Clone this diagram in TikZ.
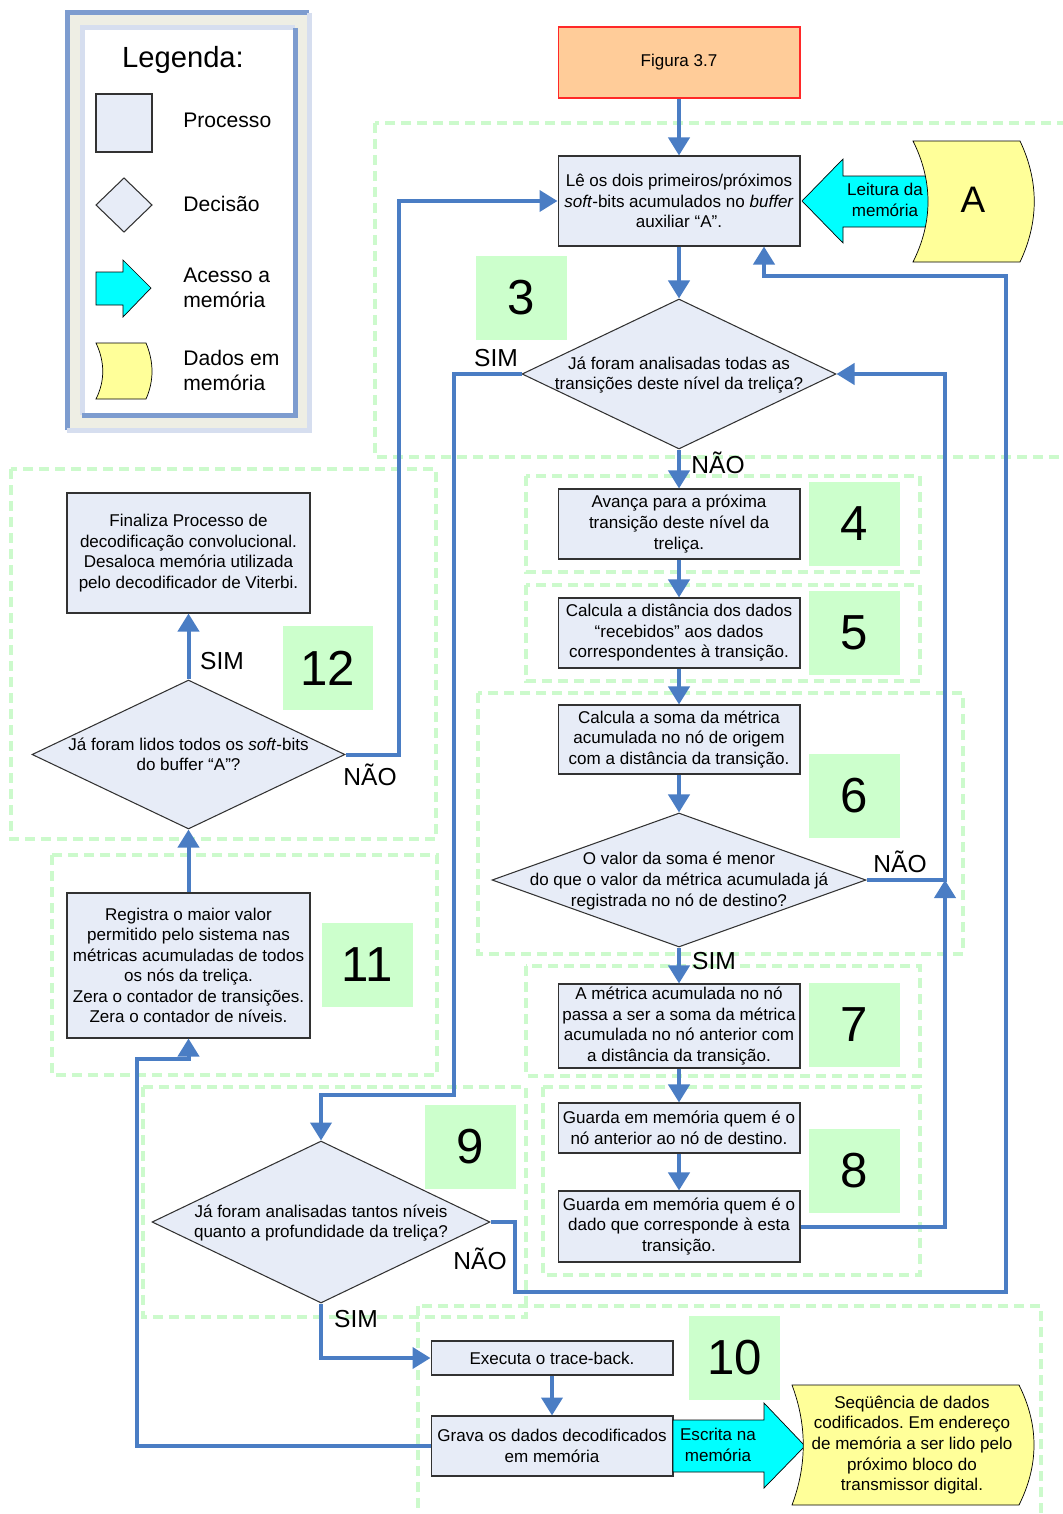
\documentclass[tikz,border=0pt]{standalone}
\usepackage{fontspec}
\setmainfont{Liberation Sans}
\usepackage{xcolor}
\usetikzlibrary{shapes.geometric,arrows.meta}

\definecolor{flowblue}{RGB}{74,125,196}
\definecolor{boxfill}{RGB}{231,236,247}
\definecolor{boxline}{RGB}{50,50,50}
\definecolor{numgreen}{RGB}{204,255,204}
\definecolor{zonegreen}{RGB}{204,250,204}
\definecolor{figfill}{RGB}{255,204,153}
\definecolor{figred}{RGB}{255,40,40}
\definecolor{memcyan}{RGB}{0,255,255}
\definecolor{memyellow}{RGB}{255,255,153}
\definecolor{legblue}{RGB}{125,156,207}
\definecolor{leglight}{RGB}{214,222,239}
\definecolor{legbeige}{RGB}{238,238,228}

\newcommand\boxfont{\fontsize{9.7}{11.7}\selectfont}
\newcommand\legfont{\fontsize{12}{14.2}\selectfont}
\frenchspacing

\begin{document}
\begin{tikzpicture}[x=0.02cm, y=-0.02cm,
    box/.style={draw=boxline, fill=boxfill, line width=0.6pt, minimum width=4.84cm,
      align=center, inner sep=1pt, font=\boxfont},
    decision/.style={diamond, draw=boxline, fill=boxfill, line width=0.6pt, inner sep=0pt},
    qtext/.style={align=center, font=\boxfont},
    legtext/.style={font=\legfont, anchor=west, align=left, inner sep=0pt},
    stepnum/.style={fill=numgreen, minimum width=1.82cm, minimum height=1.68cm,
      font=\fontsize{28}{30}\selectfont},
    answer/.style={font=\fontsize{14}{16}\selectfont},
    flow/.style={draw=flowblue, line width=0.08cm, -{Triangle[length=0.36cm,width=0.42cm]}},
    zone/.style={draw=zonegreen, line width=0.08cm, dash pattern=on 0.2cm off 0.12cm},
    memarrow/.style={fill=memcyan, draw=black, line width=0.4pt},
    memdata/.style={fill=memyellow, draw=black, line width=0.4pt}]
  \useasboundingbox (0,0) rectangle (1062,1514);

  % ── Zones pointillées (étapes) ──────────────────────────────────────────
  \draw[zone] (375,123) rectangle (1075,457);
  \draw[zone] (526,476) rectangle (920,572);
  \draw[zone] (526,585) rectangle (920,681);
  \draw[zone] (478,693) rectangle (963,954);
  \draw[zone] (526,966) rectangle (920,1076);
  \draw[zone] (543,1087) rectangle (920,1275);
  \draw[zone] (143,1087) rectangle (526,1317);
  \draw[zone] (418,1306) rectangle (1041,1530);
  \draw[zone] (52,855) rectangle (437,1075);
  \draw[zone] (11,469) rectangle (436,839);

  % ── Légende ─────────────────────────────────────────────────────────────
  \fill[legbeige] (67,13) rectangle (309,430);
  \draw[legblue, line width=0.1cm] (67,430) -- (67,13) -- (309,13);
  \draw[leglight, line width=0.1cm] (309,13) -- (309,430) -- (67,430);
  \fill[white] (82,28) rectangle (295,415);
  \draw[leglight, line width=0.1cm] (82,415) -- (82,28) -- (295,28);
  \draw[legblue, line width=0.1cm] (295,28) -- (295,415) -- (82,415);
  \node[font=\fontsize{16.6}{18}\selectfont] (legtitle) at (183,60) {Legenda:};
  \filldraw[draw=boxline, fill=boxfill, line width=0.6pt] (96,94) rectangle (152,152);
  \filldraw[draw=boxline, fill=boxfill, line width=0.6pt]
    (124,178) -- (152,205) -- (124,232) -- (96,205) -- cycle;
  \filldraw[memarrow] (96,272) -- (123,272) -- (123,260) -- (151,288)
    -- (123,317) -- (123,305) -- (96,305) -- cycle;
  \filldraw[memdata] (96,343) -- (146,343) .. controls (154,362) and (154,381) .. (146,399)
    -- (96,399) .. controls (105,381) and (105,362) .. (96,343) -- cycle;
  \node[legtext] (legproc) at (183,120) {Processo};
  \node[legtext] (legdec) at (183,204) {Decisão};
  \node[legtext] (legacc) at (183,288) {Acesso a\\memória};
  \node[legtext] (legdat) at (183,370) {Dados em\\memória};

  % ── Blocs du processus ─────────────────────────────────────────────────
  \node[box, fill=figfill, draw=figred, minimum height=1.42cm] (fig) at (679,62.5) {Figura 3.7};
  \node[box, minimum height=1.8cm] (b1) at (679,201)
    {Lê os dois primeiros/próximos\\\textit{soft}-bits acumulados no \textit{buffer}\\auxiliar “A”.};
  \node[decision, minimum width=6.28cm, minimum height=3cm] (d3) at (679,374) {};
  \node[qtext] (d3t) at (679,375) {Já foram analisadas todas as\\transições deste nível da treliça?};
  \node[box, minimum height=1.4cm] (b4) at (679,524)
    {Avança para a próxima\\transição deste nível da\\treliça.};
  \node[box, minimum height=1.4cm] (b5) at (679,633)
    {Calcula a distância dos dados\\“recebidos” aos dados\\correspondentes à transição.};
  \node[box, minimum height=1.38cm] (b6) at (679,739.5)
    {Calcula a soma da métrica\\acumulada no nó de origem\\com a distância da transição.};
  \node[decision, minimum width=7.48cm, minimum height=2.68cm] (d6) at (679,880) {};
  \node[qtext] (d6t) at (679,881)
    {O valor da soma é menor\\do que o valor da métrica acumulada já\\registrada no nó de destino?};
  \node[box, minimum height=1.68cm] (b7) at (679,1026)
    {A métrica acumulada no nó\\passa a ser a soma da métrica\\acumulada no nó anterior com\\a distância da transição.};
  \node[box, minimum height=1cm] (b8a) at (679,1128)
    {Guarda em memória quem é o\\nó anterior ao nó de destino.};
  \node[box, minimum height=1.42cm] (b8b) at (679,1226.5)
    {Guarda em memória quem é o\\dado que corresponde à esta\\transição.};
  \node[decision, minimum width=6.76cm, minimum height=3.24cm] (d9) at (321,1222) {};
  \node[qtext] (d9t) at (321,1223)
    {Já foram analisadas tantos níveis\\quanto a profundidade da treliça?};
  \node[box, minimum height=0.68cm] (b10a) at (552,1358) {Executa o trace-back.};
  \node[box, minimum height=1.2cm] (b10b) at (552,1446) {Grava os dados decodificados\\em memória};
  \node[box, minimum width=4.86cm, minimum height=2.9cm] (b11) at (188.5,965.5)
    {Registra o maior valor\\permitido pelo sistema nas\\métricas acumuladas de todos\\os nós da treliça.\\Zera o contador de transições.\\Zera o contador de níveis.};
  \node[decision, minimum width=6.26cm, minimum height=2.98cm] (d12) at (188.5,754.5) {};
  \node[qtext] (d12t) at (188.5,754.5) {Já foram lidos todos os \textit{soft}-bits\\do buffer “A”?};
  \node[box, minimum width=4.86cm, minimum height=2.4cm] (b12) at (188.5,553)
    {Finaliza Processo de\\decodificação convolucional.\\Desaloca memória utilizada\\pelo decodificador de Viterbi.};

  % ── Numéros des étapes ─────────────────────────────────────────────────
  \node[stepnum] (n3) at (521.5,298) {3};
  \node[stepnum] (n4) at (854.5,524) {4};
  \node[stepnum] (n5) at (854.5,633) {5};
  \node[stepnum] (n6) at (854.5,796) {6};
  \node[stepnum] (n7) at (854.5,1025) {7};
  \node[stepnum] (n8) at (854.5,1171) {8};
  \node[stepnum] (n9) at (470.5,1147) {9};
  \node[stepnum] (n10) at (734.5,1358) {10};
  \node[stepnum] (n11) at (367.5,965) {11};
  \node[stepnum] (n12) at (328,668) {12};

  % ── Accès mémoire ──────────────────────────────────────────────────────
  \filldraw[memarrow] (802,201) -- (843,159) -- (843,176) -- (935,176)
    -- (935,227) -- (843,227) -- (843,243) -- cycle;
  \node[qtext] (rd) at (885,200) {Leitura da\\memória};
  \filldraw[memdata] (913,141) -- (1020,141) .. controls (1039,181) and (1039,222) .. (1020,262)
    -- (913,262) .. controls (933,222) and (933,181) .. (913,141) -- cycle;
  \node[font=\fontsize{21}{23}\selectfont] (memA) at (973,200) {A};
  \filldraw[memarrow] (673,1420) -- (764,1420) -- (764,1403) -- (805,1446)
    -- (764,1488) -- (764,1472) -- (673,1472) -- cycle;
  \node[qtext] (wr) at (718,1445) {Escrita na\\memória};
  \filldraw[memdata] (792,1385) -- (1019,1385) .. controls (1039,1425) and (1039,1465) .. (1019,1505)
    -- (792,1505) .. controls (807,1465) and (807,1425) .. (792,1385) -- cycle;
  \node[qtext] (memB) at (912,1445)
    {Seqüência de dados\\codificados. Em endereço\\de memória a ser lido pelo\\próximo bloco do\\transmissor digital.};

  % ── Réponses SIM / NÃO ─────────────────────────────────────────────────
  \node[answer] (sim3) at (496,358) {SIM};
  \node[answer] (nao3) at (718,463) {NÃO};
  \node[answer] (nao6) at (900,862) {NÃO};
  \node[answer] (sim6) at (714,961) {SIM};
  \node[answer] (nao9) at (480,1259) {NÃO};
  \node[answer] (sim9) at (356,1319) {SIM};
  \node[answer] (sim12) at (222,661) {SIM};
  \node[answer] (nao12) at (370,775) {NÃO};

  % ── Connexions ─────────────────────────────────────────────────────────
  \coordinate (j6) at (945,880);
  \coordinate (k3) at (454,1095);
  \coordinate (k9a) at (515,1292);
  \coordinate (k9b) at (1006,276);
  \coordinate (k9c) at (764,276);
  \coordinate (k10) at (137,1059);
  \coordinate (k12) at (399,201);
  \draw[flow] (fig.south) -- (b1.north);
  \draw[flow] (b1.south) -- (d3.north);
  \draw[flow] (d3.south) -- (b4.north);
  \draw[flow] (b4.south) -- (b5.north);
  \draw[flow] (b5.south) -- (b6.north);
  \draw[flow] (b6.south) -- (d6.north);
  \draw[flow] (d6.south) -- (b7.north);
  \draw[flow] (b7.south) -- (b8a.north);
  \draw[flow] (b8a.south) -- (b8b.north);
  \draw[flow] (b8b.east) -| (j6);
  \draw[flow] (d6.east) -- (j6) |- (d3.east);
  \draw[flow] (d3.west) -| (k3) -| (d9.north);
  \draw[flow] (d9.east) -| (k9a) -| (k9b) -- (k9c) -- (k9c |- b1.south);
  \draw[flow] (d9.south) |- (b10a.west);
  \draw[flow] (b10a.south) -- (b10b.north);
  \draw[flow] (b10b.west) -| (k10) -| (b11.south);
  \draw[flow] (b11.north) -- (d12.south);
  \draw[flow] (d12.north) -- (b12.south);
  \draw[flow] (d12.east) -| (k12) -- (b1.west);
\end{tikzpicture}
\end{document}
